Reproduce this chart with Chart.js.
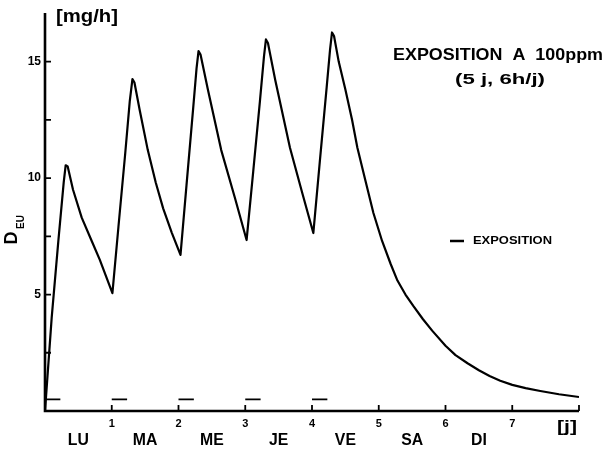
<!DOCTYPE html>
<html>
<head>
<meta charset="utf-8">
<script src="https://cdn.jsdelivr.net/npm/chart.js@4/dist/chart.umd.min.js"></script>
<style>
html,body{margin:0;padding:0;background:#fff;}
#wrap{width:605px;height:452px;}
</style>
</head>
<body>
<div id="wrap"><canvas id="c" width="605" height="452"></canvas></div>
<script>
// ---- data ----
const days = [0, 0.1, 0.2, 0.28, 0.31, 0.34, 0.42, 0.55, 0.7, 0.82, 1.01,
  1.1, 1.2, 1.27, 1.31, 1.34, 1.42, 1.54, 1.66, 1.77, 1.9, 2.03,
  2.12, 2.22, 2.27, 2.30, 2.33, 2.44, 2.64, 2.85, 3.02,
  3.12, 3.22, 3.28, 3.31, 3.34, 3.45, 3.67, 3.85, 4.02,
  4.12, 4.22, 4.27, 4.30, 4.33, 4.40, 4.50, 4.60, 4.68, 4.80, 4.92, 5.05, 5.18, 5.28, 5.40, 5.52, 5.66, 5.80,
  6.0, 6.15, 6.33, 6.5, 6.66, 6.82, 7.0, 7.2, 7.42, 7.7, 8.0];
const dose = [0, 4.0, 7.3, 9.8, 10.55, 10.5, 9.5, 8.3, 7.3, 6.5, 5.06,
  7.9, 11.0, 13.3, 14.25, 14.1, 12.9, 11.2, 9.8, 8.7, 7.65, 6.7,
  9.7, 13.0, 14.7, 15.45, 15.3, 13.8, 11.2, 9.1, 7.34,
  10.3, 13.3, 15.2, 15.95, 15.8, 14.2, 11.3, 9.4, 7.64,
  10.8, 13.9, 15.5, 16.25, 16.1, 15.0, 13.8, 12.5, 11.3, 9.9, 8.5, 7.3, 6.3, 5.6, 5.0, 4.5, 3.95, 3.45,
  2.8, 2.4, 2.05, 1.75, 1.5, 1.3, 1.12, 0.98, 0.86, 0.72, 0.6];
const expStarts = [0, 1, 2, 3, 4];
const expLength = 0.23;
const expLevel = 0.5;
const yTickValues = [2.5, 5, 7.5, 10, 12.5, 15];
const yTickLabels = [5, 10, 15];
const xTickValues = [1, 2, 3, 4, 5, 6, 7, 8];
const xTickLabels = [1, 2, 3, 4, 5, 6, 7];
const dayNames = ['LU', 'MA', 'ME', 'JE', 'VE', 'SA', 'DI'];
const dayCenters = [0.5, 1.5, 2.5, 3.5, 4.5, 5.5, 6.5];

const FAM = '"Liberation Sans", Arial, sans-serif';

const curveData = days.map((d, i) => ({x: d, y: dose[i]}));
const expData = [];
expStarts.forEach(s => {
  expData.push({x: s, y: expLevel});
  expData.push({x: s + expLength, y: expLevel});
  expData.push({x: s + expLength + 0.001, y: null});
});

function drawText(ctx, text, cx, cy, size, opts) {
  opts = opts || {};
  ctx.save();
  ctx.font = 'bold ' + size + 'px ' + FAM;
  const w = ctx.measureText(text).width;
  const sx = opts.width ? opts.width / w : (opts.sx || 1);
  ctx.translate(cx, cy);
  ctx.scale(sx, 1);
  ctx.textAlign = opts.align || 'center';
  ctx.textBaseline = 'middle';
  ctx.fillStyle = '#000';
  ctx.fillText(text, 0, 0);
  ctx.restore();
}

const decor = {
  id: 'decor',
  afterDraw(chart) {
    const ctx = chart.ctx;
    const xs = chart.scales.x, ys = chart.scales.y;
    const x0 = xs.getPixelForValue(0), x8 = xs.getPixelForValue(8);
    const y0 = ys.getPixelForValue(0), yTop = ys.getPixelForValue(17);
    ctx.save();
    ctx.strokeStyle = '#000';
    ctx.lineWidth = 2.6;
    ctx.lineCap = 'butt';
    ctx.beginPath();
    ctx.moveTo(x0, yTop - 2); ctx.lineTo(x0, y0 + 1.3);
    ctx.moveTo(x0 - 1.3, y0); ctx.lineTo(x8, y0);
    ctx.stroke();
    ctx.lineWidth = 1.8;
    ctx.beginPath();
    yTickValues.forEach(v => {
      const p = ys.getPixelForValue(v);
      ctx.moveTo(x0, p); ctx.lineTo(x0 + 6, p);
    });
    xTickValues.forEach(v => {
      const p = xs.getPixelForValue(v);
      ctx.moveTo(p, y0); ctx.lineTo(p, y0 - 6);
    });
    ctx.stroke();
    ctx.restore();

    // day names
    dayNames.forEach((n, i) => {
      drawText(ctx, n, xs.getPixelForValue(dayCenters[i]), 440, 17, {sx: 0.93});
    });
    // units
    drawText(ctx, '[mg/h]', 87, 17, 18, {width: 62});
    drawText(ctx, '[j]', 567, 427, 17, {width: 20});
    // y title rotated
    ctx.save();
    ctx.translate(12, 238);
    ctx.rotate(-Math.PI / 2);
    ctx.font = 'bold 18px ' + FAM;
    ctx.fillStyle = '#000';
    ctx.textAlign = 'center';
    ctx.textBaseline = 'middle';
    ctx.fillText('D', 0, 0);
    ctx.font = 'bold 10px ' + FAM;
    ctx.fillText('EU', 16, 9);
    ctx.restore();
    // title
    drawText(ctx, 'EXPOSITION  A  100ppm', 498, 55, 17, {width: 210});
    drawText(ctx, '(5 j, 6h/j)', 500, 80, 15, {width: 90});
    // legend
    ctx.save();
    ctx.strokeStyle = '#000';
    ctx.lineWidth = 2.5;
    ctx.beginPath(); ctx.moveTo(450, 241); ctx.lineTo(464, 241); ctx.stroke();
    ctx.restore();
    drawText(ctx, 'EXPOSITION', 473, 241, 11, {width: 79, align: 'left'});
  }
};

new Chart(document.getElementById('c'), {
  type: 'line',
  data: {
    datasets: [
      {data: curveData, borderColor: '#000', borderWidth: 2.2, pointRadius: 0, tension: 0, borderJoinStyle: 'round', fill: false},
      {data: expData, borderColor: '#000', borderWidth: 1.6, pointRadius: 0, spanGaps: false, fill: false}
    ]
  },
  options: {
    responsive: false,
    animation: false,
    events: [],
    layout: {padding: {left: 0, top: 15, right: 26, bottom: 0}},
    plugins: {legend: {display: false}, tooltip: {enabled: false}},
    scales: {
      x: {
        type: 'linear', min: 0, max: 8,
        grid: {display: false, drawTicks: false}, border: {display: false},
        ticks: {stepSize: 1, autoSkip: false, maxRotation: 0, padding: 6, color: '#000',
          font: {size: 11, weight: 'bold', family: FAM},
          callback: v => xTickLabels.includes(v) ? String(v) : ''},
        afterFit(s) { s.height = 41; }
      },
      y: {
        type: 'linear', min: 0, max: 17,
        grid: {display: false, drawTicks: false}, border: {display: false},
        ticks: {stepSize: 2.5, autoSkip: false, padding: 4, color: '#000',
          font: {size: 12, weight: 'bold', family: FAM},
          callback: v => yTickLabels.includes(v) ? String(v) : ''},
        afterFit(s) { s.width = 45; }
      }
    }
  },
  plugins: [decor]
});
</script>
</body>
</html>
